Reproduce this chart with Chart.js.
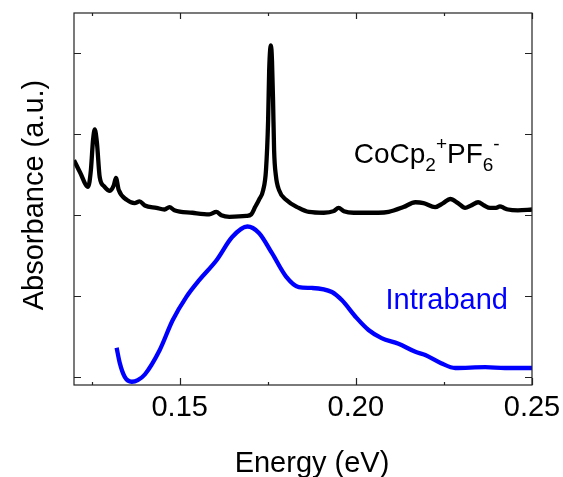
<!DOCTYPE html>
<html>
<head>
<meta charset="utf-8">
<script src="https://cdn.jsdelivr.net/npm/chart.js@4.4.0/dist/chart.umd.min.js"></script>
<style>
html,body{margin:0;padding:0;background:#fff;}
</style>
</head>
<body>
<canvas id="chart" width="563" height="477"></canvas>
<script>
// CoCp2+PF6- reference spectrum (black)
const energyBlack = [0.1200,0.1217,0.1240,0.1248,0.1254,0.1259,0.1265,0.1273,0.1285,0.1302,0.1313,0.1319,0.1327,0.1350,0.1372,0.1386,0.1401,0.1434,0.1457,0.1471,0.1485,0.1536,0.1584,0.1604,0.1618,0.1641,0.1689,0.1703,0.1714,0.1725,0.1737,0.1745,0.1751,0.1754,0.1757,0.1759,0.1762,0.1765,0.1768,0.1773,0.1782,0.1802,0.1838,0.1867,0.1909,0.1937,0.1951,0.1966,0.1994,0.2028,0.2064,0.2093,0.2135,0.2169,0.2192,0.2225,0.2248,0.2268,0.2290,0.2310,0.2327,0.2347,0.2364,0.2381,0.2398,0.2409,0.2420,0.2432,0.2460,0.2500];
const absBlack = [2.68,2.53,2.35,2.56,2.93,3.06,2.90,2.47,2.36,2.30,2.37,2.46,2.31,2.19,2.15,2.17,2.12,2.09,2.07,2.10,2.06,2.03,2.01,2.04,2.00,1.98,1.99,2.01,2.10,2.19,2.31,2.56,3.17,3.79,4.06,4.10,3.91,3.42,2.80,2.49,2.31,2.19,2.09,2.04,2.03,2.05,2.09,2.05,2.03,2.03,2.03,2.04,2.10,2.16,2.15,2.10,2.15,2.20,2.15,2.09,2.12,2.16,2.12,2.09,2.09,2.11,2.09,2.07,2.06,2.07];

// intraband absorption (blue)
const energyBlue = [0.1321,0.1330,0.1344,0.1364,0.1381,0.1401,0.1443,0.1480,0.1519,0.1556,0.1604,0.1649,0.1692,0.1725,0.1762,0.1802,0.1838,0.1875,0.1932,0.1960,0.2002,0.2036,0.2073,0.2121,0.2169,0.2197,0.2242,0.2282,0.2367,0.2423,0.2500];
const absBlue = [0.36,0.17,0.00,-0.06,-0.04,0.03,0.33,0.70,0.99,1.20,1.44,1.73,1.86,1.78,1.53,1.24,1.11,1.10,1.05,0.95,0.73,0.58,0.48,0.41,0.31,0.27,0.17,0.11,0.12,0.11,0.11];

const xTickValues = [0.15, 0.20, 0.25];
const xMinorTicks = [0.125, 0.175, 0.225];
const yTickValues = [0, 1, 2, 3, 4];

const FONT = '"Liberation Sans", Arial, sans-serif';

function toPoints(xs, ys) {
    return xs.map((v, i) => ({x: v, y: ys[i]}));
}

function drawParts(ctx, parts, x0, y0) {
    let cx = x0;
    parts.forEach(p => {
        ctx.font = p.size + 'px ' + FONT;
        ctx.fillText(p.t, cx, y0 + p.dy);
        cx += ctx.measureText(p.t).width;
    });
}

const framePlugin = {
    id: 'frame',
    afterDatasetsDraw(chart) {
        const {ctx, chartArea: a, scales: {x, y}} = chart;
        ctx.save();
        ctx.strokeStyle = '#222';
        ctx.lineWidth = 1.2;
        ctx.strokeRect(a.left, a.top, a.right - a.left, a.bottom - a.top);
        ctx.beginPath();
        xTickValues.forEach(v => {
            const px = Math.round(x.getPixelForValue(v)) + 0.5;
            ctx.moveTo(px, a.bottom); ctx.lineTo(px, a.bottom - 7);
            ctx.moveTo(px, a.top); ctx.lineTo(px, a.top + 6);
        });
        xMinorTicks.forEach(v => {
            const px = Math.round(x.getPixelForValue(v)) + 0.5;
            ctx.moveTo(px, a.bottom); ctx.lineTo(px, a.bottom - 3);
            ctx.moveTo(px, a.top); ctx.lineTo(px, a.top + 3);
        });
        yTickValues.forEach(v => {
            const py = Math.round(y.getPixelForValue(v)) + 0.5;
            ctx.moveTo(a.left, py); ctx.lineTo(a.left + 7, py);
            ctx.moveTo(a.right, py); ctx.lineTo(a.right - 7, py);
        });
        ctx.stroke();

        // axis titles
        ctx.fillStyle = '#000';
        ctx.textBaseline = 'alphabetic';
        ctx.textAlign = 'center';
        ctx.font = '29px ' + FONT;
        ctx.fillText('Energy (eV)', 312, 472);
        ctx.save();
        ctx.translate(43, 195);
        ctx.rotate(-Math.PI / 2);
        ctx.fillText('Absorbance (a.u.)', 0, 0);
        ctx.restore();

        // curve labels
        ctx.textAlign = 'left';
        drawParts(ctx, [
            {t: 'CoCp', size: 28, dy: 0},
            {t: '2', size: 19, dy: 8},
            {t: '+', size: 19, dy: -13},
            {t: 'PF', size: 28, dy: 0},
            {t: '6', size: 19, dy: 8},
            {t: '-', size: 19, dy: -13}
        ], x.getPixelForValue(0.1994), y.getPixelForValue(2.65));
        ctx.fillStyle = '#0000ff';
        ctx.font = '29px ' + FONT;
        ctx.fillText('Intraband', x.getPixelForValue(0.2084), y.getPixelForValue(0.84));
        ctx.restore();
    }
};

const config = {
    type: 'line',
    data: {
        datasets: [
            {
                label: 'CoCp2+PF6-',
                data: toPoints(energyBlack, absBlack),
                borderColor: '#000000',
                borderWidth: 4.3,
                pointRadius: 0,
                cubicInterpolationMode: 'monotone'
            },
            {
                label: 'Intraband',
                data: toPoints(energyBlue, absBlue),
                borderColor: '#0000ff',
                borderWidth: 4.3,
                pointRadius: 0,
                cubicInterpolationMode: 'monotone'
            }
        ]
    },
    options: {
        responsive: false,
        animation: false,
        layout: {padding: {top: 13, right: 31, left: 0, bottom: 0}},
        plugins: {legend: {display: false}, tooltip: {enabled: false}},
        scales: {
            x: {
                type: 'linear',
                min: 0.12,
                max: 0.25,
                grid: {display: false, drawTicks: false},
                border: {display: false},
                afterBuildTicks: (scale) => { scale.ticks = xTickValues.map(v => ({value: v})); },
                afterFit: (scale) => {
                    scale.height = 92;
                    scale.paddingLeft = 0;
                    scale.paddingRight = 0;
                },
                ticks: {
                    padding: 6,
                    color: '#000',
                    font: {size: 29, family: FONT},
                    maxRotation: 0,
                    callback: (v) => Number(v).toFixed(2)
                }
            },
            y: {
                min: -0.1,
                max: 4.5,
                grid: {display: false, drawTicks: false},
                border: {display: false},
                afterFit: (scale) => {
                    scale.width = 74;
                    scale.paddingTop = 0;
                    scale.paddingBottom = 0;
                },
                ticks: {display: false}
            }
        }
    },
    plugins: [framePlugin]
};

new Chart(document.getElementById('chart').getContext('2d'), config);
</script>
</body>
</html>
